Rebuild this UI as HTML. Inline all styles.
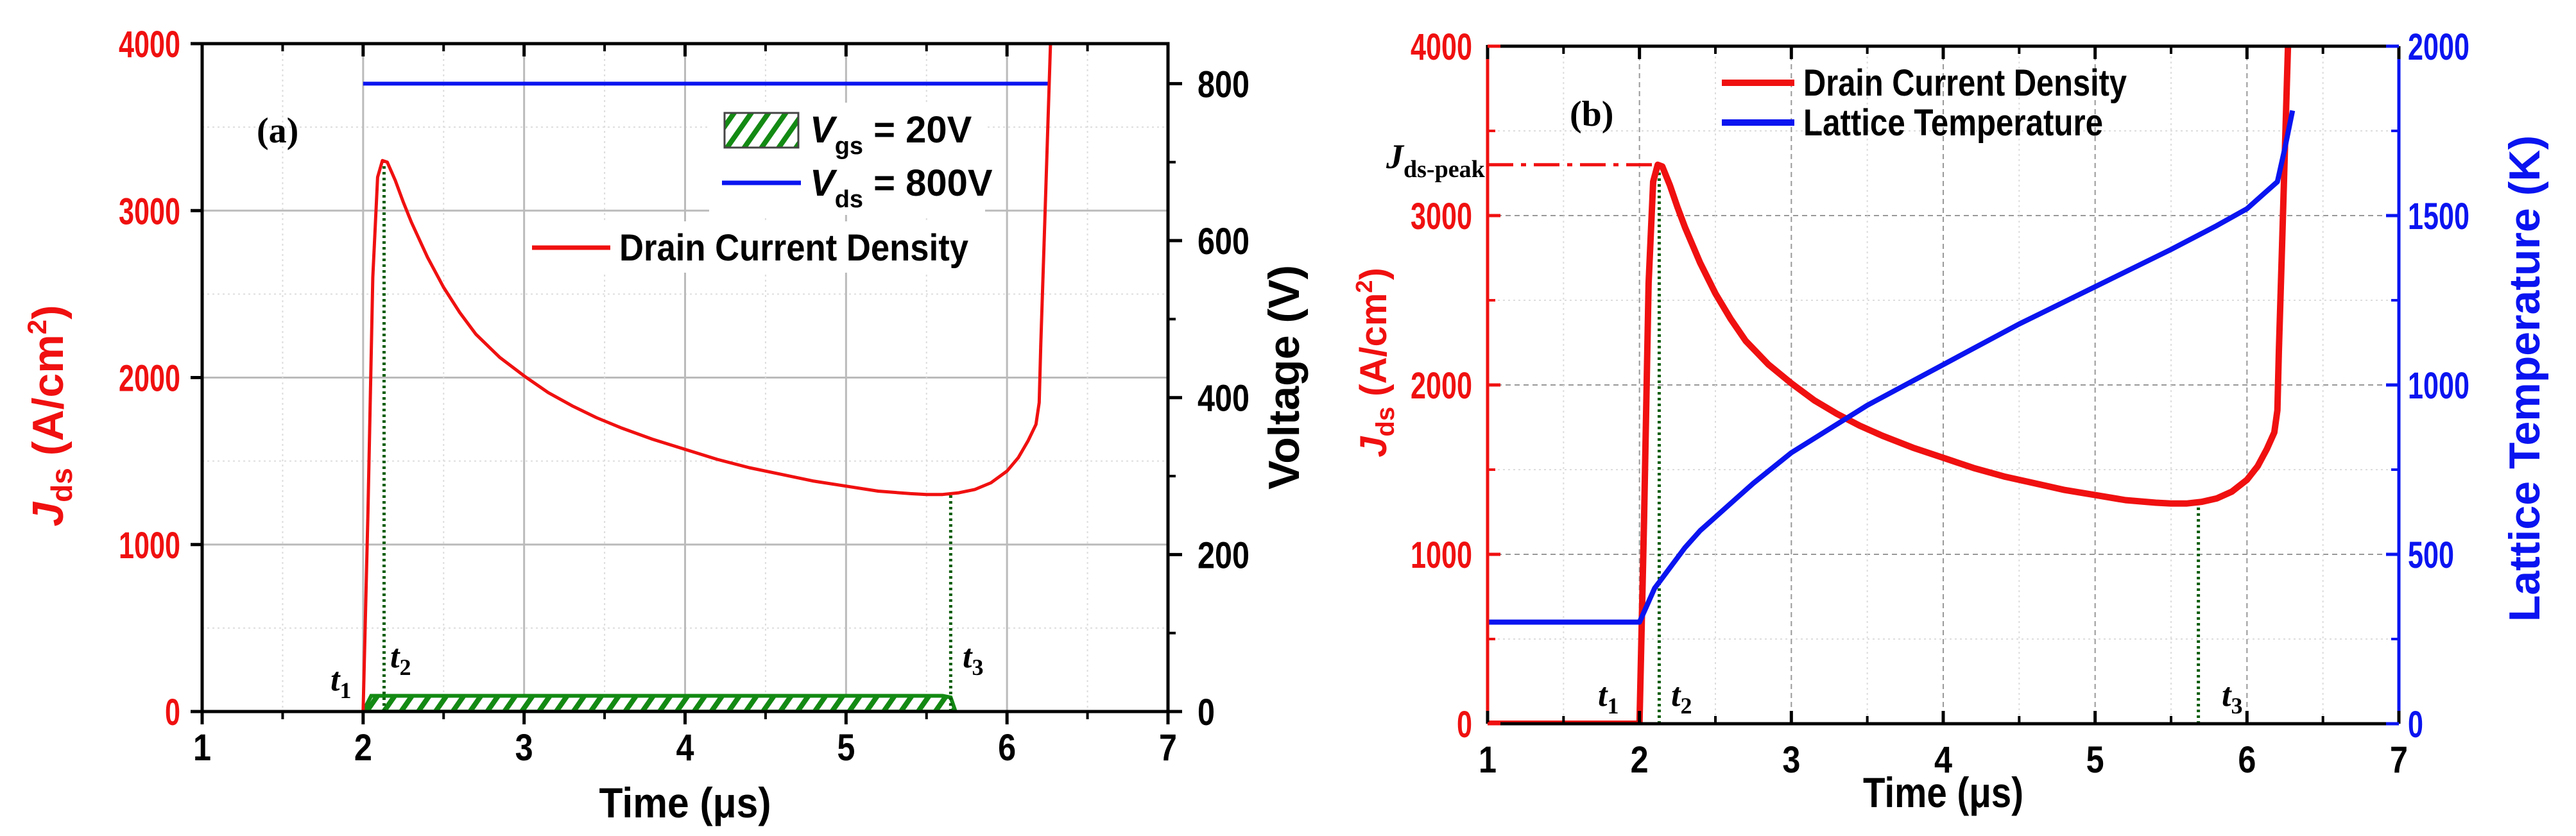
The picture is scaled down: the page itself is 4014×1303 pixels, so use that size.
<!DOCTYPE html>
<html><head><meta charset="utf-8"><style>
html,body{margin:0;padding:0;background:#fff}
svg{display:block}
.tk{font-family:"Liberation Sans",sans-serif;font-weight:bold;font-size:58px}
.ti{font-family:"Liberation Sans",sans-serif;font-weight:bold}
.lg{font-family:"Liberation Sans",sans-serif;font-weight:bold;font-size:58px}
.sf{font-family:"Liberation Serif",serif}
</style></head><body>
<svg id="fig" width="4014" height="1303" viewBox="0 0 4014 1303" xmlns="http://www.w3.org/2000/svg">
<defs>
<pattern id="hatch" patternUnits="userSpaceOnUse" width="22" height="22" patternTransform="rotate(35)">
<rect width="22" height="22" fill="#fff"/><rect width="8" height="22" fill="#138a13"/>
</pattern>
<clipPath id="clipA"><rect x="315" y="68" width="1505" height="1041"/></clipPath>
<clipPath id="clipB"><rect x="2318" y="72" width="1420" height="1056"/></clipPath>
</defs>
<g id="chartA"></g>
<g id="chartB"></g>
</svg>
<script>
// ---- data ----
const xTicks = [1, 2, 3, 4, 5, 6, 7];
const jTicks = [0, 1000, 2000, 3000, 4000];
const vTicks = [0, 200, 400, 600, 800];
const tempTicks = [0, 500, 1000, 1500, 2000];
const jTime = [1, 1.99, 2.0, 2.03, 2.06, 2.09, 2.12, 2.15, 2.2, 2.25, 2.3, 2.4, 2.5, 2.6, 2.7, 2.85, 3.0, 3.15, 3.3, 3.45, 3.6, 3.8, 4.0, 4.2, 4.4, 4.6, 4.8, 5.0, 5.2, 5.4, 5.5, 5.6, 5.7, 5.8, 5.9, 6.0, 6.07, 6.13, 6.18, 6.2, 6.21, 6.23, 6.25, 6.27, 6.3];
const jValues = [0, 0, 0, 1200, 2600, 3200, 3300, 3290, 3180, 3050, 2930, 2720, 2540, 2390, 2260, 2120, 2010, 1910, 1830, 1760, 1700, 1630, 1570, 1510, 1460, 1420, 1380, 1350, 1320, 1305, 1300, 1300, 1310, 1330, 1370, 1440, 1520, 1620, 1720, 1850, 2200, 2800, 3400, 4000, 4500];
const tempTime = [1, 2.0, 2.05, 2.1, 2.15, 2.2, 2.3, 2.4, 2.5, 2.65, 2.75, 3.0, 3.25, 3.5, 3.75, 4.0, 4.5, 5.0, 5.5, 5.8, 6.0, 6.1, 6.2, 6.25, 6.3];
const tempValues = [300, 300, 350, 400, 430, 460, 520, 570, 610, 670, 710, 800, 870, 940, 1000, 1060, 1180, 1290, 1400, 1470, 1520, 1560, 1600, 1700, 1810];
const vgsTime = [2.0, 2.05, 5.6, 5.65, 5.68];
const vgsValues = [0, 20, 20, 18, 0];
const vdsTime = [2.0, 6.27];
const vdsValues = [800, 800];
const t2 = 2.13, t3a = 5.65, t3b = 5.68;
const jPeak = 3300;

const NS = "http://www.w3.org/2000/svg";
function mk(parent, tag, attrs, text) {
  const e = document.createElementNS(NS, tag);
  for (const k in attrs) e.setAttribute(k, attrs[k]);
  if (text !== undefined) e.textContent = text;
  parent.appendChild(e);
  return e;
}
function squeeze(e, w) { e.setAttribute("textLength", w); e.setAttribute("lengthAdjust", "spacingAndGlyphs"); }
function interp(xs, ys, x) {
  for (let i = 1; i < xs.length; i++) if (x <= xs[i]) { const f = (x - xs[i-1]) / (xs[i] - xs[i-1]); return ys[i-1] + f * (ys[i] - ys[i-1]); }
  return ys[ys.length-1];
}
function pathD(xs, ys, sx, sy) {
  return xs.map((v, i) => (i ? "L" : "M") + sx(v).toFixed(1) + "," + sy(ys[i]).toFixed(1)).join("");
}

// ===== Chart A =====
(function () {
  const g = document.getElementById("chartA");
  const L = 315, R = 1820, T = 68, B = 1109;
  const sx = t => L + (t - 1) / 6 * (R - L);
  const sy = j => B - j / 4000 * (B - T);
  const sv = v => B - v / 851 * (B - T);
  for (let j = 500; j < 4000; j += 500) {
    const gl = mk(g, "line", {x1: L, x2: R, y1: sy(j), y2: sy(j), stroke: j % 1000 ? "#ddd" : "#bbb", "stroke-width": j % 1000 ? 2 : 3, "stroke-dasharray": j % 1000 ? "3,5" : "none"});
    
    
  }
  for (let t = 1.5; t < 7; t += 0.5) {
    const gl = mk(g, "line", {x1: sx(t), x2: sx(t), y1: T, y2: B, stroke: (t % 1) ? "#ddd" : "#bbb", "stroke-width": (t % 1) ? 2 : 3, "stroke-dasharray": (t % 1) ? "3,5" : "none"});
    
    
  }
  const cg = mk(g, "g", {"clip-path": "url(#clipA)"});
  
  
  const vg = mk(cg, "path", {d: pathD(vgsTime, vgsValues, sx, sv) + "Z", fill: "url(#hatch)", stroke: "#138a13", "stroke-width": 6});
  
  
  const vds = mk(cg, "path", {d: pathD(vdsTime, vdsValues, sx, sv), fill: "none", stroke: "#0a14f0", "stroke-width": 6});
  
  
  const d1 = mk(cg, "line", {x1: sx(t2), x2: sx(t2), y1: B, y2: sy(jPeak), stroke: "#0b5e0b", "stroke-width": 5, "stroke-dasharray": "4,5"});
  
  
  const d2 = mk(cg, "line", {x1: sx(t3a), x2: sx(t3a), y1: B, y2: sy(interp(jTime, jValues, t3a)), stroke: "#0b5e0b", "stroke-width": 5, "stroke-dasharray": "4,5"});
  
  
  const jl = mk(cg, "path", {d: pathD(jTime, jValues, sx, sy), fill: "none", stroke: "#f01010", "stroke-width": 5, "stroke-linejoin": "round"});
  
  
  const fr = mk(g, "rect", {x: L, y: T, width: R - L, height: B - T, fill: "none", stroke: "#000", "stroke-width": 5});
  
  
  xTicks.forEach(t => {
    mk(g, "line", {x1: sx(t), x2: sx(t), y1: B, y2: B + 20, stroke: "#000", "stroke-width": 5});
    mk(g, "line", {x1: sx(t), x2: sx(t), y1: T, y2: T + 20, stroke: "#000", "stroke-width": 5});
    const lb = mk(g, "text", {x: sx(t), y: B + 76, "text-anchor": "middle", class: "tk", "font-size": 62}, String(t));
    squeeze(lb, 28);
    
    
    if (t < 7) {
      mk(g, "line", {x1: sx(t + 0.5), x2: sx(t + 0.5), y1: B, y2: B + 12, stroke: "#000", "stroke-width": 4});
      mk(g, "line", {x1: sx(t + 0.5), x2: sx(t + 0.5), y1: T, y2: T + 12, stroke: "#000", "stroke-width": 4});
    }
  });
  jTicks.forEach(j => {
    mk(g, "line", {x1: L, x2: L - 18, y1: sy(j), y2: sy(j), stroke: "#000", "stroke-width": 5});
    const s = String(j);
    const lb = mk(g, "text", {x: L - 34, y: sy(j) + 21, "text-anchor": "end", class: "tk", fill: "#f01010"}, s);
    squeeze(lb, s.length * 24);
    
    
  });
  vTicks.forEach(v => {
    mk(g, "line", {x1: R, x2: R + 22, y1: sv(v), y2: sv(v), stroke: "#000", "stroke-width": 5});
    if (v + 100 < 851) mk(g, "line", {x1: R, x2: R + 12, y1: sv(v + 100), y2: sv(v + 100), stroke: "#000", "stroke-width": 4});
    const s = String(v);
    const lb = mk(g, "text", {x: R + 46, y: sv(v) + 21, "text-anchor": "start", class: "tk"}, s);
    squeeze(lb, s.length * 27);
    
    
  });
  const xt = mk(g, "text", {x: sx(4), y: 1274, "text-anchor": "middle", class: "ti", "font-size": 66}, "Time (μs)");
  squeeze(xt, 268);
  
  
  const yt = mk(g, "text", {transform: "translate(98,648) rotate(-90)", "text-anchor": "middle", class: "ti", "font-size": 68, fill: "#f01010"});
  
  
  mk(yt, "tspan", {"font-style": "italic"}, "J");
  mk(yt, "tspan", {"font-size": 46, dy: 14}, "ds");
  mk(yt, "tspan", {dy: -14}, " (A/cm");
  mk(yt, "tspan", {"font-size": 42, dy: -26}, "2");
  mk(yt, "tspan", {dy: 26}, ")");
  const vt = mk(g, "text", {transform: "translate(2024,588) rotate(-90)", "text-anchor": "middle", class: "ti", "font-size": 68}, "Voltage (V)");
  
  
  const pa = mk(g, "text", {x: 400, y: 222, class: "sf", "font-weight": "bold", "font-size": 56}, "(a)");
  
  
  const lg = mk(g, "g", {});
  
  
  mk(lg, "rect", {x: 1105, y: 160, width: 430, height: 175, fill: "#fff"});
  mk(lg, "rect", {x: 1129, y: 176, width: 115, height: 54, fill: "url(#hatch)", stroke: "#444", "stroke-width": 3});
  const l1 = mk(lg, "text", {x: 1262, y: 222, class: "lg"});
  
  
  mk(l1, "tspan", {"font-style": "italic"}, "V");
  mk(l1, "tspan", {"font-size": 38, dy: 18}, "gs");
  mk(l1, "tspan", {dy: -18}, " = 20V");
  mk(lg, "line", {x1: 1125, x2: 1248, y1: 285, y2: 285, stroke: "#0a14f0", "stroke-width": 7});
  const l2 = mk(lg, "text", {x: 1262, y: 305, class: "lg"});
  
  
  mk(l2, "tspan", {"font-style": "italic"}, "V");
  mk(l2, "tspan", {"font-size": 38, dy: 18}, "ds");
  mk(l2, "tspan", {dy: -18}, " = 800V");
  mk(g, "rect", {x: 820, y: 345, width: 720, height: 80, fill: "#fff"});
  mk(g, "line", {x1: 829, x2: 951, y1: 386, y2: 386, stroke: "#f01010", "stroke-width": 7});
  const l3 = mk(g, "text", {x: 965, y: 406, class: "lg"}, "Drain Current Density");
  squeeze(l3, 544);
  
  
  [["t", "1", 515, 1076], ["t", "2", 608, 1040], ["t", "3", 1500, 1040]].forEach(a => {
    const tl = mk(g, "text", {x: a[2], y: a[3], class: "sf", "font-style": "italic", "font-weight": "bold", "font-size": 52});
    
    
    mk(tl, "tspan", {}, a[0]);
    mk(tl, "tspan", {"font-size": 36, dy: 12, "font-style": "normal"}, a[1]);
  });
})();

// ===== Chart B =====
(function () {
  const g = document.getElementById("chartB");
  const L = 2318, R = 3738, T = 72, B = 1128;
  const sx = t => L + (t - 1) / 6 * (R - L);
  const sy = j => B - j / 4000 * (B - T);
  const st = k => B - k / 2000 * (B - T);
  for (let j = 500; j < 4000; j += 500) {
    const gl = mk(g, "line", {x1: L, x2: R, y1: sy(j), y2: sy(j), stroke: j % 1000 ? "#ddd" : "#999", "stroke-width": 2, "stroke-dasharray": j % 1000 ? "3,5" : "8,6"});
    
    
  }
  for (let t = 1.5; t < 7; t += 0.5) {
    const gl = mk(g, "line", {x1: sx(t), x2: sx(t), y1: T, y2: B, stroke: (t % 1) ? "#ddd" : "#999", "stroke-width": 2, "stroke-dasharray": (t % 1) ? "3,5" : "8,6"});
    
    
  }
  const cg = mk(g, "g", {"clip-path": "url(#clipB)"});
  
  
  const pk = mk(cg, "line", {x1: L, x2: sx(t2), y1: sy(jPeak), y2: sy(jPeak), stroke: "#f01010", "stroke-width": 5, "stroke-dasharray": "40,12,8,12"});
  
  
  const d1 = mk(cg, "line", {x1: sx(t2), x2: sx(t2), y1: B, y2: sy(jPeak), stroke: "#0b5e0b", "stroke-width": 5, "stroke-dasharray": "4,5"});
  
  
  const d2 = mk(cg, "line", {x1: sx(t3b), x2: sx(t3b), y1: B, y2: sy(interp(jTime, jValues, t3b)), stroke: "#0b5e0b", "stroke-width": 5, "stroke-dasharray": "4,5"});
  
  
  const jl = mk(cg, "path", {d: pathD(jTime, jValues, sx, sy), fill: "none", stroke: "#f01010", "stroke-width": 10, "stroke-linejoin": "round"});
  
  
  const tl = mk(cg, "path", {d: pathD(tempTime, tempValues, sx, st), fill: "none", stroke: "#0a14f0", "stroke-width": 8, "stroke-linejoin": "round"});
  
  
  mk(g, "line", {x1: L, x2: R, y1: T, y2: T, stroke: "#000", "stroke-width": 5});
  mk(g, "line", {x1: L, x2: R, y1: B, y2: B, stroke: "#000", "stroke-width": 5});
  const la = mk(g, "line", {x1: L, x2: L, y1: T + 20, y2: B, stroke: "#f01010", "stroke-width": 5});
  
  
  mk(g, "line", {x1: L, x2: L, y1: T - 2, y2: T + 20, stroke: "#000", "stroke-width": 5});
  const ra = mk(g, "line", {x1: R, x2: R, y1: T, y2: B, stroke: "#0a14f0", "stroke-width": 5});
  
  
  xTicks.forEach(t => {
    mk(g, "line", {x1: sx(t), x2: sx(t), y1: B, y2: B - 20, stroke: "#000", "stroke-width": 5});
    mk(g, "line", {x1: sx(t), x2: sx(t), y1: T, y2: T + 20, stroke: "#000", "stroke-width": 5});
    const lb = mk(g, "text", {x: sx(t), y: B + 76, "text-anchor": "middle", class: "tk", "font-size": 62}, String(t));
    squeeze(lb, 28);
    
    
    if (t < 7) {
      mk(g, "line", {x1: sx(t + 0.5), x2: sx(t + 0.5), y1: B, y2: B - 12, stroke: "#000", "stroke-width": 4});
      mk(g, "line", {x1: sx(t + 0.5), x2: sx(t + 0.5), y1: T, y2: T + 12, stroke: "#000", "stroke-width": 4});
    }
  });
  jTicks.forEach(j => {
    mk(g, "line", {x1: L, x2: L + 20, y1: sy(j), y2: sy(j), stroke: "#f01010", "stroke-width": 5});
    if (j < 4000) mk(g, "line", {x1: L, x2: L + 12, y1: sy(j + 500), y2: sy(j + 500), stroke: "#f01010", "stroke-width": 4});
    const s = String(j);
    const lb = mk(g, "text", {x: L - 24, y: sy(j) + 21, "text-anchor": "end", class: "tk", fill: "#f01010"}, s);
    squeeze(lb, s.length * 24);
    
    
  });
  tempTicks.forEach(k => {
    mk(g, "line", {x1: R, x2: R - 20, y1: st(k), y2: st(k), stroke: "#0a14f0", "stroke-width": 5});
    if (k < 2000) mk(g, "line", {x1: R, x2: R - 12, y1: st(k + 250), y2: st(k + 250), stroke: "#0a14f0", "stroke-width": 4});
    const s = String(k);
    const lb = mk(g, "text", {x: R + 14, y: st(k) + 21, "text-anchor": "start", class: "tk", fill: "#0a14f0"}, s);
    squeeze(lb, s.length * 24);
    
    
  });
  const xt = mk(g, "text", {x: sx(4), y: 1258, "text-anchor": "middle", class: "ti", "font-size": 66}, "Time (μs)");
  squeeze(xt, 250);
  
  
  const yt = mk(g, "text", {transform: "translate(2160,565) rotate(-90)", "text-anchor": "middle", class: "ti", "font-size": 58, fill: "#f01010"});
  
  
  mk(yt, "tspan", {"font-style": "italic"}, "J");
  mk(yt, "tspan", {"font-size": 40, dy: 12}, "ds");
  mk(yt, "tspan", {dy: -12}, " (A/cm");
  mk(yt, "tspan", {"font-size": 36, dy: -22}, "2");
  mk(yt, "tspan", {dy: 22}, ")");
  const rt = mk(g, "text", {transform: "translate(3957,590) rotate(-90)", "text-anchor": "middle", class: "ti", "font-size": 68, fill: "#0a14f0"}, "Lattice Temperature (K)");
  
  
  const pb = mk(g, "text", {x: 2446, y: 196, class: "sf", "font-weight": "bold", "font-size": 56}, "(b)");
  
  
  const pl = mk(g, "text", {x: 2160, y: 262, class: "sf", "font-weight": "bold", "font-size": 54});
  
  
  mk(pl, "tspan", {"font-style": "italic"}, "J");
  mk(pl, "tspan", {"font-size": 38, dy: 14}, "ds-peak");
  mk(g, "line", {x1: 2683, x2: 2796, y1: 129, y2: 129, stroke: "#f01010", "stroke-width": 10});
  const l1 = mk(g, "text", {x: 2810, y: 149, class: "lg"}, "Drain Current Density");
  squeeze(l1, 504);
  
  
  mk(g, "line", {x1: 2683, x2: 2796, y1: 191, y2: 191, stroke: "#0a14f0", "stroke-width": 10});
  const l2 = mk(g, "text", {x: 2810, y: 211, class: "lg"}, "Lattice Temperature");
  squeeze(l2, 467);
  
  
  [["t", "1", 2490, 1100], ["t", "2", 2604, 1100], ["t", "3", 3462, 1100]].forEach(a => {
    const tl2 = mk(g, "text", {x: a[2], y: a[3], class: "sf", "font-style": "italic", "font-weight": "bold", "font-size": 52});
    
    
    mk(tl2, "tspan", {}, a[0]);
    mk(tl2, "tspan", {"font-size": 36, dy: 12, "font-style": "normal"}, a[1]);
  });
})();
</script>
</body></html>
